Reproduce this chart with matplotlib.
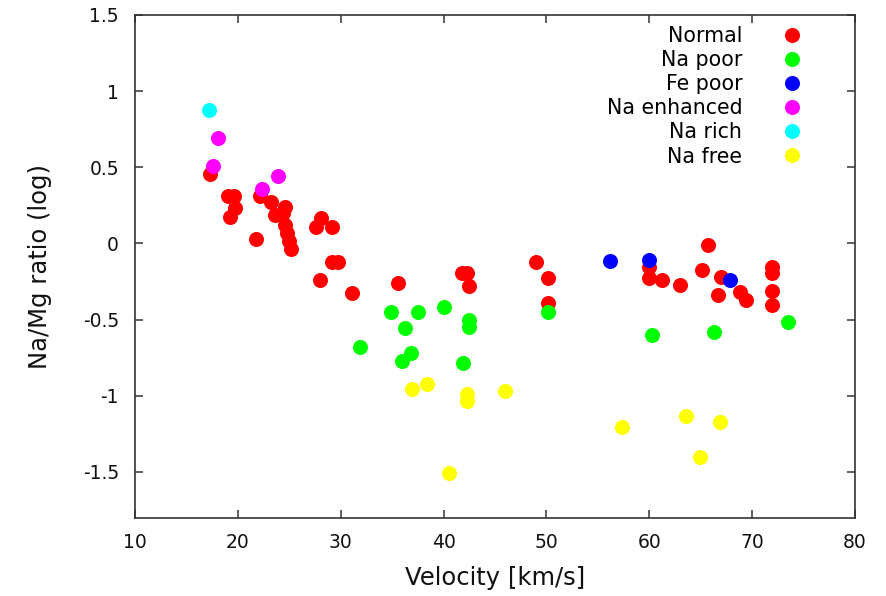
import matplotlib
matplotlib.use("Agg")
import matplotlib.pyplot as plt

plt.rcParams['font.family'] = ['DejaVu Sans']

# ---- data (velocity km/s, log Na/Mg) ----
normal_v = [17.3, 19.0, 19.6, 19.7, 19.2, 21.8, 22.15, 23.2, 24.6, 23.6, 24.4, 24.6, 24.8,
            25.0, 25.2, 28.05, 27.6, 29.2, 29.2, 29.7, 28.0, 31.1, 35.6, 41.8, 42.25, 42.5,
            49.0, 50.2, 50.2, 60.0, 60.0, 61.2, 63.0, 65.7, 65.1, 67.0, 66.7, 68.8, 69.4,
            71.9, 71.9, 71.9, 71.9]
normal_r = [0.456, 0.31, 0.31, 0.23, 0.175, 0.031, 0.311, 0.274, 0.239, 0.185, 0.2, 0.121, 0.066,
            0.018, -0.039, 0.167, 0.11, 0.11, -0.124, -0.124, -0.24, -0.328, -0.262, -0.196, -0.196, -0.278,
            -0.124, -0.229, -0.393, -0.153, -0.229, -0.24, -0.275, -0.009, -0.173, -0.223, -0.339, -0.317, -0.374,
            -0.153, -0.196, -0.315, -0.402]

napoor_v = [34.9, 37.5, 36.25, 40.0, 42.45, 42.5, 31.9, 36.8, 36.0, 41.9, 50.2, 60.3, 66.3, 73.5]
napoor_r = [-0.448, -0.448, -0.553, -0.42, -0.503, -0.547, -0.682, -0.722, -0.77, -0.783, -0.448,
            -0.601, -0.582, -0.516]

fepoor_v = [56.15, 60.0, 67.8]
fepoor_r = [-0.116, -0.111, -0.242]

naenh_v = [18.1, 17.55, 22.35, 23.9]
naenh_r = [0.694, 0.508, 0.359, 0.44]

narich_v = [17.2]
narich_r = [0.876]

nafree_v = [36.9, 38.4, 42.25, 42.25, 46.0, 40.55, 57.3, 63.6, 66.9, 64.9]
nafree_r = [-0.954, -0.923, -0.991, -1.035, -0.971, -1.508, -1.204, -1.133, -1.171, -1.401]

groups = [
    ("Normal", normal_v, normal_r, "#ff0000"),
    ("Na poor", napoor_v, napoor_r, "#00ff00"),
    ("Fe poor", fepoor_v, fepoor_r, "#0000ff"),
    ("Na enhanced", naenh_v, naenh_r, "#ff00ff"),
    ("Na rich", narich_v, narich_r, "#00ffff"),
    ("Na free", nafree_v, nafree_r, "#ffff00"),
]

xticks = [10, 20, 30, 40, 50, 60, 70, 80]
yticks = [-1.5, -1, -0.5, 0, 0.5, 1, 1.5]
ytick_labels = ["-1.5", "-1", "-0.5", "0", "0.5", "1", "1.5"]

fig = plt.figure(figsize=(8.87, 5.96), dpi=100)
ax = fig.add_axes([135/887, 1 - 517.5/596, 720/887, 502.5/596])

for name, v, r, c in groups:
    ax.scatter(v, r, s=117, c=c, linewidths=0, label=name, zorder=3)

ax.set_xlim(10, 80)
ax.set_ylim(-1.8, 1.5)
ax.set_xticks(xticks)
ax.set_xticklabels([str(t) for t in xticks])
ax.set_yticks(yticks)
ax.set_yticklabels(ytick_labels)

frame_col = "#333333"
for sp in ax.spines.values():
    sp.set_color(frame_col)
    sp.set_linewidth(1.2)
ax.tick_params(direction="in", top=True, right=True, length=6, width=1.1,
               color=frame_col, labelsize=13.5, pad=11.5, labelcolor="#111111")

ax.set_xlabel("Velocity [km/s]", fontsize=17.5, labelpad=10, color="#111111")
ax.set_ylabel("Na/Mg ratio (log)", fontsize=17.5, labelpad=22, color="#111111")

leg = ax.legend(loc="upper right", bbox_to_anchor=(0.934, 0.978), markerfirst=False,
                frameon=False, fontsize=14.8, handlelength=1.5, handletextpad=1.67,
                labelspacing=0.2, borderpad=0, borderaxespad=0, scatterpoints=1,
                scatteryoffsets=[0.5])

fig.savefig("out.png", dpi=100)
